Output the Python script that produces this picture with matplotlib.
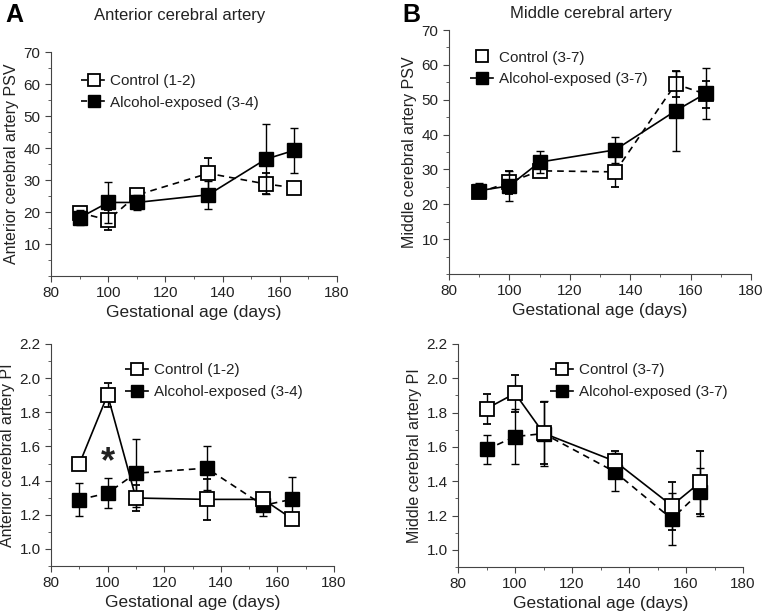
import numpy as np
import matplotlib
matplotlib.use("Agg")
from matplotlib import pyplot as plt
from matplotlib.lines import Line2D
from matplotlib.ticker import MultipleLocator

plt.rcParams['font.family'] = ['Liberation Sans', 'DejaVu Sans']

# gestational age (days)
days = [90, 100, 110, 135, 155, 165]

# anterior cerebral artery PSV
aca_psv_ctrl = [19.8, 17.5, 25.3, 32.1, 28.8, 27.6]
aca_psv_ctrl_err = [1.2, 3.0, 0.8, 4.8, 3.3, 0.5]
aca_psv_alc = [18.2, 23.0, 23.0, 25.4, 36.5, 39.3]
aca_psv_alc_err = [2.3, 6.5, 2.4, 4.3, 11.0, 7.0]

# middle cerebral artery PSV
mca_psv_ctrl = [23.4, 26.3, 29.6, 29.3, 54.5, 51.6]
mca_psv_ctrl_err = [1.0, 3.3, 1.0, 4.3, 3.7, 3.9]
mca_psv_alc = [23.9, 25.3, 32.1, 35.6, 46.8, 51.8]
mca_psv_alc_err = [2.2, 4.3, 3.2, 3.7, 11.5, 7.3]

# anterior cerebral artery PI
aca_pi_ctrl = [1.496, 1.902, 1.298, 1.29, 1.29, 1.178]
aca_pi_ctrl_err = [0.0, 0.07, 0.075, 0.12, 0.03, 0.02]
aca_pi_alc = [1.288, 1.327, 1.443, 1.473, 1.255, 1.29]
aca_pi_alc_err = [0.098, 0.09, 0.2, 0.13, 0.06, 0.13]

# middle cerebral artery PI
mca_pi_ctrl = [1.823, 1.912, 1.68, 1.517, 1.258, 1.394]
mca_pi_ctrl_err = [0.087, 0.11, 0.18, 0.06, 0.14, 0.185]
mca_pi_alc = [1.585, 1.66, 1.678, 1.455, 1.18, 1.339]
mca_pi_alc_err = [0.085, 0.16, 0.19, 0.11, 0.15, 0.14]

txt = '#222222'
ax_col = '#444444'

fig = plt.figure(figsize=(7.63, 6.15), dpi=100)
ax1 = fig.add_axes([0.0668, 0.5512, 0.375, 0.364])
ax2 = fig.add_axes([0.5885, 0.5545, 0.3958, 0.3967])
ax3 = fig.add_axes([0.0668, 0.0797, 0.371, 0.361])
ax4 = fig.add_axes([0.6003, 0.0780, 0.3735, 0.3627])


def draw(ax, ctrl, ctrl_err, alc, alc_err, ls_ctrl, ls_alc, ctrl_top):
    z_c, z_a = (4, 3) if ctrl_top else (3, 4)
    ax.errorbar(days, ctrl, yerr=ctrl_err, fmt='s', ls=ls_ctrl, color='black', lw=1.2,
                mfc='white', mec='black', mew=1.3, ms=10, capsize=3, elinewidth=1,
                capthick=1, zorder=z_c, dashes=(4, 3) if ls_ctrl == '--' else (None, None))
    ax.errorbar(days, alc, yerr=alc_err, fmt='s', ls=ls_alc, color='black', lw=1.2,
                mfc='black', mec='black', ms=10, capsize=3, elinewidth=1,
                capthick=1, zorder=z_a, dashes=(4, 3) if ls_alc == '--' else (None, None))


def style(ax, psv):
    ax.set_xlim(80, 180)
    ax.xaxis.set_major_locator(MultipleLocator(20))
    ax.xaxis.set_minor_locator(MultipleLocator(10))
    if psv:
        ax.set_ylim(0, 70)
        ax.set_yticks(range(10, 71, 10))
        ax.yaxis.set_minor_locator(MultipleLocator(5))
    else:
        ax.set_ylim(0.9, 2.2)
        ax.set_yticks(np.arange(1.0, 2.21, 0.2))
        ax.yaxis.set_major_formatter(matplotlib.ticker.FormatStrFormatter('%.1f'))
        ax.yaxis.set_minor_locator(MultipleLocator(0.1))
    for s in ['top', 'right']:
        ax.spines[s].set_visible(False)
    for s in ['left', 'bottom']:
        ax.spines[s].set_color(ax_col)
    ax.tick_params(which='both', direction='out', colors=ax_col, labelcolor=txt, labelsize=11)
    ax.tick_params(which='major', length=4)
    ax.tick_params(which='minor', length=2)
    ax.set_xlabel('Gestational age (days)', fontsize=12.5, color=txt, labelpad=3)


def leg(ax, labels, ctrl_line, anchor):
    h1 = Line2D([], [], color='black', ls='--' if ctrl_line else 'none', marker='s', ms=9,
                mfc='white', mec='black', mew=1.3, lw=1.2)
    h2 = Line2D([], [], color='black', ls='--', marker='s', ms=9, mfc='black', lw=1.2)
    ax.legend([h1, h2], labels, loc='upper left', bbox_to_anchor=anchor, frameon=False,
              fontsize=11, handlelength=1.6, handletextpad=0.3, labelspacing=0.5,
              labelcolor=txt, borderaxespad=0)


draw(ax1, aca_psv_ctrl, aca_psv_ctrl_err, aca_psv_alc, aca_psv_alc_err, '--', '-', False)
style(ax1, True)
ax1.set_ylabel('Anterior cerebral artery PSV', fontsize=11.5, color=txt, labelpad=3)
leg(ax1, ['Control (1-2)', 'Alcohol-exposed (3-4)'], True, (0.085, 0.93))

draw(ax2, mca_psv_ctrl, mca_psv_ctrl_err, mca_psv_alc, mca_psv_alc_err, '--', '-', False)
style(ax2, True)
ax2.set_ylabel('Middle cerebral artery PSV', fontsize=11.5, color=txt, labelpad=3)
leg(ax2, ['Control (3-7)', 'Alcohol-exposed (3-7)'], False, (0.05, 0.94))

draw(ax3, aca_pi_ctrl, aca_pi_ctrl_err, aca_pi_alc, aca_pi_alc_err, '-', '--', True)
style(ax3, False)
ax3.set_ylabel('Anterior cerebral artery PI', fontsize=11.5, color=txt, labelpad=3)
leg(ax3, ['Control (1-2)', 'Alcohol-exposed (3-4)'], True, (0.24, 0.94))
ax3.text(100, 1.40, '*', ha='center', va='bottom', fontsize=26, fontweight='bold', color=txt)

draw(ax4, mca_pi_ctrl, mca_pi_ctrl_err, mca_pi_alc, mca_pi_alc_err, '-', '--', True)
style(ax4, False)
ax4.set_ylabel('Middle cerebral artery PI', fontsize=11.5, color=txt, labelpad=3)
leg(ax4, ['Control (3-7)', 'Alcohol-exposed (3-7)'], True, (0.30, 0.94))

# panel letters and titles
fig.text(0.007, 0.975, 'A', fontsize=18, fontweight='bold', va='center', ha='left')
fig.text(0.236, 0.975, 'Anterior cerebral artery', fontsize=12, va='center', ha='center', color=txt)
fig.text(0.527, 0.975, 'B', fontsize=18, fontweight='bold', va='center', ha='left')
fig.text(0.775, 0.978, 'Middle cerebral artery', fontsize=12, va='center', ha='center', color=txt)

fig.savefig('out.png', dpi=100)
